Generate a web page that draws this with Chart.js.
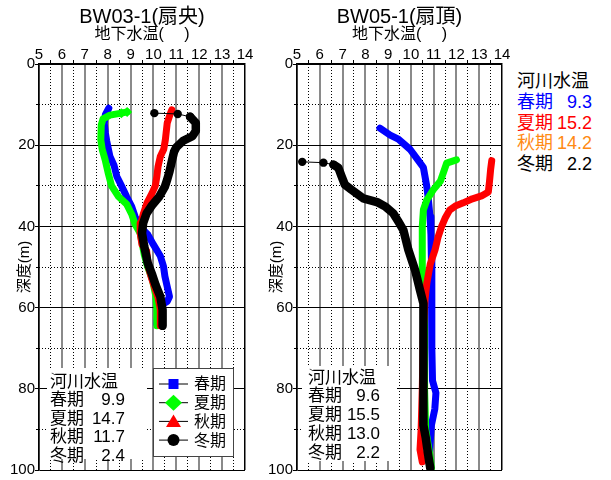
<!DOCTYPE html>
<html><head><meta charset="utf-8">
<script src="https://cdn.jsdelivr.net/npm/chart.js"></script>
<style>
body{margin:0;background:#fff;width:611px;height:480px;position:relative;overflow:hidden;font-family:"Liberation Sans","Noto Sans CJK JP",sans-serif;color:#000;}
canvas{position:absolute;top:0;}
.box{position:absolute;background:#fff;}
.row{display:flex;justify-content:space-between;white-space:nowrap;}
</style></head><body>
<canvas id="c1" width="255" height="480" style="left:0px;width:255px;height:480px"></canvas>
<canvas id="c2" width="356" height="480" style="left:255px;width:356px;height:480px"></canvas>
<div id="box1" class="box" style="left:47px;top:368px;width:100px;height:91px;font-size:17px;line-height:18.6px;"></div>
<div id="box2" class="box" style="left:302px;top:366px;width:95px;height:95px;font-size:17px;line-height:18.8px;"></div>
<div id="box3" class="box" style="left:517px;top:71px;width:76px;font-size:18px;line-height:20.8px;"></div>
<script>
// ---------- data ----------
const seasons = ['春期', '夏期', '秋期', '冬期'];
const riverTitle = '河川水温';
const riverBW03 = [9.9, 14.7, 11.7, 2.4];
const riverBW05 = [9.6, 15.5, 13.0, 2.2];
const riverBW05side = [9.3, 15.2, 14.2, 2.2];
const xTickMin = 5, xTickMax = 14;
const depthMin = 0, depthMax = 100;

// BW03-1 (扇央)
const bw03SpringT = [8.05,7.9,7.85,7.9,7.96,8.05,8.1,8.28,8.4,8.62,8.83,9.05,9.2,9.4,9.75,10.0,10.3,10.44,10.5,10.6,10.7,10.6,10.3,10.2,10.15];
const bw03SpringD = [10.9,12.5,14.6,17,19,21.5,22.8,25,27.7,30.2,32.7,35.1,37.6,40,42,44.5,47.3,49.9,52.3,54.8,57.3,58.5,59.5,61,64];
const bw03SummerT = [8.85,8.6,8.1,7.8,7.72,7.7,7.76,7.89,8.03,8.17,8.48,8.83,9.05,9.2,9.42,9.5,9.6,9.75,9.95,10.1,10.15,10.15,10.15];
const bw03SummerD = [11.8,12.1,12.6,13.5,15,18.7,21,23.6,27,30,32.7,34.5,37,39.5,41.7,44,47,50,53,57,60,63,64.5];
const bw03AutumnT = [10.8,10.72,10.6,10.52,10.45,10.3,10.2,10.15,10.08,9.94,9.72,9.57,9.45,9.42,9.5,9.7,9.78,9.93,10.08,10.2,10.3,10.3];
const bw03AutumnD = [11.3,12.5,14.6,18.7,21,22.8,25.3,27.7,30,31.8,34.2,36.7,39.2,41.7,44.5,46,50,53,55.5,57.5,60.5,64.5];
const bw03WinterT = [10.04,11.06,11.6,11.85,11.85,11.7,11.3,11.0,10.9,10.8,10.7,10.6,10.5,10.25,9.95,9.7,9.55,9.5,9.6,9.75,9.95,10.1,10.3,10.4,10.4];
const bw03WinterD = [12.1,12.3,13.0,14.5,16.5,17.8,18.9,20.5,21.6,24,26.5,28.5,30.2,32.7,34.7,36.8,39.2,41.7,45,49,52,54.5,57.3,60.6,64.5];

// BW05-1 (扇頂)
const bw05SpringT = [8.64,9.09,9.45,9.96,10.33,10.55,10.7,10.77,10.84,10.88,10.9,10.92,10.92,10.92,10.95,11.1,11.05,10.9,10.85,10.8,10.85];
const bw05SpringD = [15.8,17.5,18.5,21,23.8,25.5,30.2,33.5,37.6,42,48,55,62,70,78,81,85,89,93,97,99.5];
const bw05SummerT = [12.0,11.57,11.42,11.3,10.98,10.7,10.55,10.5,10.5,10.55,10.6,10.6,10.65,10.85,10.9];
const bw05SummerD = [23.6,24.4,26.9,28.8,31,33.5,35.9,40,49.8,55,65,80,90,97,99.5];
const bw05AutumnT = [13.55,13.5,13.45,13.4,13.1,12.7,12.3,11.95,11.7,11.5,11.35,11.2,11.06,10.85,10.7,10.62,10.55,10.5,10.45,10.4,10.5];
const bw05AutumnD = [23.8,26,29,31.5,32.5,33.2,34.2,35,36,38,40,42.5,45.8,49.3,54,58,65,80,90,95,98];
const bw05WinterT = [5.23,6.16,6.6,6.82,6.96,7.1,7.4,7.91,8.55,8.9,9.23,9.45,9.67,9.89,10.18,10.4,10.55,10.55,10.55,10.55,10.65,10.75,10.85];
const bw05WinterD = [24.1,24.3,24.8,25.6,27.7,29.7,31,33.1,34.1,35.2,36.8,38.8,40.9,45.8,50.7,55.7,59,70,80,89,92,96,99.5];

// ---------- helpers ----------
const FONT = '"Liberation Sans","Noto Sans CJK JP",sans-serif';
Chart.defaults.font.family = FONT;
Chart.defaults.color = '#000';

const COLORS = {spring:'#0000ff', summer:'#00ff00', autumn:'#ff0000', winter:'#000000'};
const STYLES = {spring:'rect', summer:'rectRot', autumn:'triangle', winter:'circle'};

function pts(T, D){ return T.map((t,i)=>({x:t, y:D[i]})); }

function series(label, key, T, D, width, markCount, markR, thinCount){
  const c = COLORS[key];
  return {
    label, data: pts(T,D), showLine:true, fill:false, tension:0,
    borderColor:c, backgroundColor:c, borderWidth:width,
    borderJoinStyle:'round', borderCapStyle:'round',
    pointStyle:STYLES[key], pointBackgroundColor:c, pointBorderColor:c, pointBorderWidth:0,
    pointRadius: ctx => ctx.dataIndex < markCount ? markR : 0,
    pointHoverRadius:0,
    segment:{ borderWidth: ctx => ctx.p0DataIndex < thinCount ? 1 : width },
    order: {spring:3, summer:2, autumn:1, winter:0}[key]
  };
}

function drawMarker(ctx, style, x, y, color){
  ctx.fillStyle = color;
  ctx.beginPath();
  if(style==='rect'){ ctx.rect(x-5,y-5,10,10); }
  else if(style==='rectRot'){ ctx.moveTo(x,y-8); ctx.lineTo(x+8.5,y); ctx.lineTo(x,y+8); ctx.lineTo(x-8.5,y); ctx.closePath(); }
  else if(style==='triangle'){ ctx.moveTo(x,y-7); ctx.lineTo(x+7.5,y+5.5); ctx.lineTo(x-7.5,y+5.5); ctx.closePath(); }
  else { ctx.arc(x,y,6,0,Math.PI*2); }
  ctx.fill();
}

const boxLegend = {
  id:'boxLegend',
  afterDraw(chart){
    const ctx = chart.ctx, a = chart.chartArea;
    const w = 80, h = 88, x0 = a.right - 12 - w, y0 = a.bottom - 14 - h;
    ctx.save();
    ctx.fillStyle = '#fff'; ctx.fillRect(x0, y0, w, h);
    ctx.strokeStyle = '#444'; ctx.lineWidth = 1; ctx.strokeRect(x0+0.5, y0+0.5, w, h);
    const ds = chart.data.datasets;
    ds.forEach((d,i)=>{
      const cy = y0 + 16 + i*18.7;
      ctx.beginPath(); ctx.moveTo(x0+6, cy); ctx.lineTo(x0+35, cy);
      ctx.strokeStyle = '#000'; ctx.lineWidth = 1; ctx.stroke();
      drawMarker(ctx, d.pointStyle, x0+20.5, cy, d.borderColor);
      ctx.fillStyle = '#000'; ctx.font = '16px ' + FONT; ctx.textBaseline = 'middle'; ctx.textAlign = 'left';
      ctx.fillText(d.label, x0+41, cy+1);
    });
    ctx.restore();
  }
};

function makeChart(id, title, datasets, padRight, yWidth, yTitlePad, plugins){
  const isInt = v => Math.abs(v - Math.round(v)) < 1e-6;
  return new Chart(document.getElementById(id), {
    type:'scatter',
    data:{ datasets },
    plugins,
    options:{
      responsive:false, animation:false, events:[],
      layout:{ padding:{ left:0, right:padRight, top:0, bottom:10 } },
      plugins:{
        legend:{display:false}, tooltip:{enabled:false},
        title:{display:true, text:title, fullSize:false, color:'#000', font:{size:20, weight:'normal', lineHeight:1.0}, padding:{top:7, bottom:0}},
        subtitle:{display:true, text:'地下水温(　 )', fullSize:false, color:'#000', font:{size:16, weight:'normal', lineHeight:1.0}, padding:{top:0, bottom:0}}
      },
      scales:{
        x:{ type:'linear', position:'top', min:xTickMin, max:xTickMax, weight:1,
            ticks:{stepSize:1, padding:0, font:{size:15}, color:'#000', maxTicksLimit:100},
            grid:{ drawTicks:false,
                   color: c => (c.tick && (c.tick.value===xTickMin || c.tick.value===xTickMax)) ? '#000' : '#8a8a8a',
                   lineWidth: c => (c.tick && (c.tick.value===xTickMin || c.tick.value===xTickMax)) ? 1.5 : 2 },
            border:{display:true, color:'#000', width:1.5},
            afterFit: s => { s.height = 21; } },
        x2:{ type:'linear', position:'top', min:xTickMin, max:xTickMax, weight:0,
            ticks:{stepSize:0.5, display:false, maxTicksLimit:100},
            grid:{ drawTicks:true, tickLength:4, lineWidth:1,
                   color: c => (c.tick && isInt(c.tick.value)) ? 'rgba(0,0,0,0)' : '#000',
                   tickColor: c => (c.tick && isInt(c.tick.value)) ? 'rgba(0,0,0,0)' : '#000' },
            border:{display:false, dash:[1,2]},
            afterFit: s => { s.height = 0; } },
        y:{ type:'linear', position:'left', reverse:true, min:depthMin, max:depthMax, weight:1,
            ticks:{stepSize:20, padding:0, font:{size:15}, color:'#000', maxTicksLimit:100},
            grid:{ color:'#000', lineWidth:1, drawTicks:true, tickLength:4, tickColor:'#000' },
            border:{display:true, color:'#000', width:1.5},
            title:{display:true, text:'深度(m)', color:'#000', font:{size:15}, padding:{top:yTitlePad, bottom:0}},
            afterFit: s => { s.width = yWidth; } },
        y2:{ type:'linear', position:'left', reverse:true, min:depthMin, max:depthMax, weight:0,
            ticks:{stepSize:10, display:false, maxTicksLimit:100},
            grid:{ drawTicks:true, tickLength:3, lineWidth:1,
                   color: c => (c.tick && c.tick.value % 20 === 0) ? 'rgba(0,0,0,0)' : '#000',
                   tickColor: c => (c.tick && c.tick.value % 20 === 0) ? 'rgba(0,0,0,0)' : '#000' },
            border:{display:false, dash:[1,2]},
            afterFit: s => { s.width = 0; } }
      }
    }
  });
}

makeChart('c1', 'BW03-1(扇央)', [
  series(seasons[0], 'spring', bw03SpringT, bw03SpringD, 7, 0, 0, 0),
  series(seasons[1], 'summer', bw03SummerT, bw03SummerD, 7, 2, 5, 0),
  series(seasons[2], 'autumn', bw03AutumnT, bw03AutumnD, 7, 0, 0, 0),
  series(seasons[3], 'winter', bw03WinterT, bw03WinterD, 8.5, 3, 4.2, 2)
], 10, 39, 16, [boxLegend]);

makeChart('c2', 'BW05-1(扇頂)', [
  series(seasons[0], 'spring', bw05SpringT, bw05SpringD, 7, 0, 0, 0),
  series(seasons[1], 'summer', bw05SummerT, bw05SummerD, 7, 0, 0, 0),
  series(seasons[2], 'autumn', bw05AutumnT, bw05AutumnD, 7, 0, 0, 0),
  series(seasons[3], 'winter', bw05WinterT, bw05WinterD, 8.5, 3, 4.2, 2)
], 109, 42, 13, []);

// ---------- river temperature text boxes ----------
function fillBox(id, values, colors, padL, valRight, padTop){
  const el = document.getElementById(id);
  let html = `<div style="padding-left:${padL}px;padding-top:${padTop}px;width:${valRight}px">`;
  html += `<div class="row"><span>${riverTitle}</span></div>`;
  seasons.forEach((s,i)=>{
    const col = colors ? colors[i] : '#000';
    html += `<div class="row" style="color:${col}"><span>${s}</span><span>${values[i].toFixed(1)}</span></div>`;
  });
  html += '</div>';
  el.innerHTML = html;
}
fillBox('box1', riverBW03, null, 3, 75, 4.7);
fillBox('box2', riverBW05, null, 6, 72, 2.6);
fillBox('box3', riverBW05side, ['#0000ff','#ff0000','#ff8a14','#000000'], 0, 75, 0);
</script>
</body></html>
